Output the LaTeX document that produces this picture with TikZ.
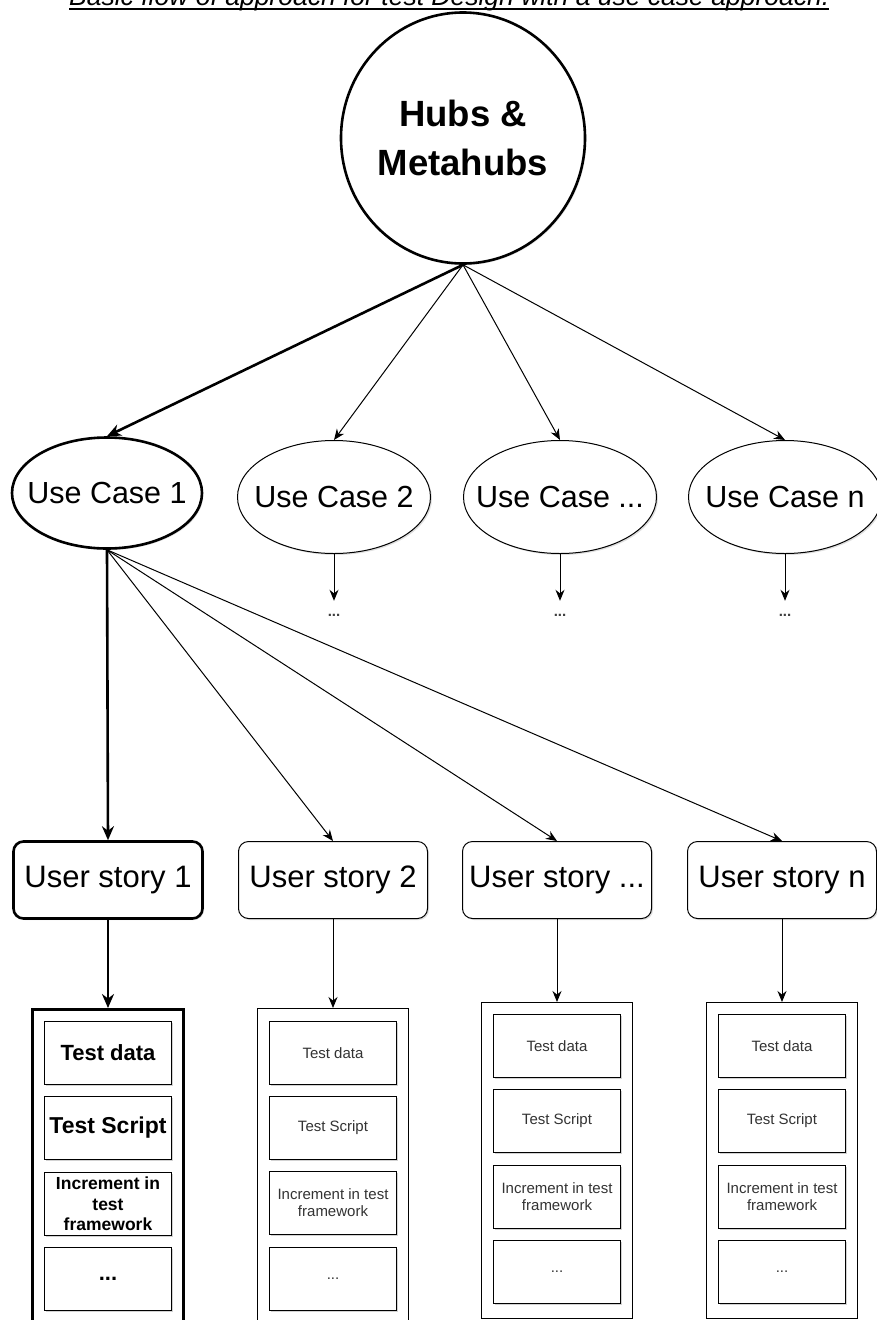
\documentclass[tikz,border=0pt]{standalone}
\usepackage{fontspec}
\setmainfont{Liberation Sans}
\usetikzlibrary{shapes.geometric,arrows.meta,shadows}
\begin{document}
\begin{tikzpicture}[x=1pt,y=-1pt,
  thickln/.style={line width=2.6pt},
  thinln/.style={line width=1pt},
  arr/.style={-{Stealth[length=11pt,width=9pt]},thinln},
  arrthick/.style={-{Stealth[length=14pt,width=12pt]},thickln},
  uc/.style={ellipse,draw,thinln,minimum width=193pt,minimum height=113pt,inner xsep=-20pt,inner ysep=0pt,font=\fontsize{30.5}{34}\selectfont,fill=white,drop shadow={shadow xshift=1.5pt,shadow yshift=-1.5pt,opacity=0.25}},
  us/.style={rectangle,rounded corners=10pt,draw,thinln,minimum width=189pt,minimum height=77pt,inner sep=0pt,font=\fontsize{31}{34}\selectfont,fill=white,drop shadow={shadow xshift=1.5pt,shadow yshift=-1.5pt,opacity=0.25}},
  cont/.style={rectangle,draw,thinln,minimum width=151pt,inner sep=0pt,fill=white},
  inner/.style={rectangle,draw,line width=1.2pt,minimum width=127pt,minimum height=63pt,inner sep=0pt,align=center,fill=white,font=\fontsize{15}{17}\selectfont,text=black!80,drop shadow={shadow xshift=1.8pt,shadow yshift=-1.8pt,opacity=0.35}},
  innerb/.style={inner,text=black,font=\bfseries\fontsize{22}{24}\selectfont},
  dots/.style={font=\bfseries\fontsize{15}{15}\selectfont,text=black!75,inner sep=1pt,text height=14pt,text depth=0pt}
]
\useasboundingbox (0,0) rectangle (877,1320);
% title
\node[anchor=base west,inner sep=0pt,font=\itshape\fontsize{26.5}{28}\selectfont] (title) at (69,5) {Basic flow of approach for test Design with a use case approach.};
\draw[line width=2pt] (69,9) -- (title.base east |- 0,9);
% hub
\node[ellipse,draw,line width=2.6pt,minimum width=244pt,minimum height=251pt,inner sep=0pt,align=center,font=\bfseries\fontsize{36.5}{49}\selectfont,fill=white,drop shadow={shadow xshift=1.5pt,shadow yshift=-1.5pt,opacity=0.2}] (hub) at (463,138) {Hubs \&\\Metahubs};
% use cases
\node[uc,thickln,minimum width=190pt,minimum height=111pt] (uc1) at (107,493) {Use Case 1};
\node[uc] (uc2) at (334,497) {Use Case 2};
\node[uc] (uc3) at (560,497) {Use Case ...};
\node[uc] (uc4) at (785,497) {Use Case n};
\draw[arrthick] (hub.south) -- (uc1.north);
\draw[arr] (hub.south) -- (uc2.north);
\draw[arr] (hub.south) -- (uc3.north);
\draw[arr] (hub.south) -- (uc4.north);
% dots below use cases
\foreach \i/\x in {2/334,3/560,4/785}{
  \node[dots,anchor=base] (d\i) at (\x,616) {...};
  \draw[arr] (uc\i.south) -- (d\i.north);
}
% user stories
\node[us,thickln] (us1) at (108,880) {User story 1};
\node[us] (us2) at (333,880) {User story 2};
\node[us] (us3) at (557,880) {User story ...};
\node[us] (us4) at (782,880) {User story n};
\draw[arrthick] (uc1.south) -- (us1.north);
\draw[arr] (uc1.south) -- (us2.north);
\draw[arr] (uc1.south) -- (us3.north);
\draw[arr] (uc1.south) -- (us4.north);
% containers
\node[cont,thickln,minimum height=330pt,anchor=north] (c1) at (108,1008) {};
\node[cont,minimum height=312pt,anchor=north] (c2) at (333,1008) {};
\node[cont,minimum height=316pt,anchor=north] (c3) at (557,1002) {};
\node[cont,minimum height=316pt,anchor=north] (c4) at (782,1002) {};
\draw[arrthick] (us1.south) -- (c1.north);
\draw[arr] (us2.south) -- (c2.north);
\draw[arr] (us3.south) -- (c3.north);
\draw[arr] (us4.south) -- (c4.north);
% inner boxes, column 1 (bold)
\node[innerb] (a1) at (108,1053) {Test data};
\node[innerb,font=\bfseries\fontsize{23}{25}\selectfont] (a2) at (108,1128) {Test Script};
\node[innerb,font=\bfseries\fontsize{17.5}{20.5}\selectfont] (a3) at (108,1204) {Increment in\\test\\framework};
\node[innerb] (a4) at (108,1279) {...};
% column 2
\node[inner] (b1) at (333,1053) {Test data};
\node[inner] (b2) at (333,1128) {Test Script};
\node[inner] (b3) at (333,1203) {Increment in test\\framework};
\node[inner] (b4) at (333,1279) {...};
% column 3
\node[inner] (e1) at (557,1046) {Test data};
\node[inner] (e2) at (557,1121) {Test Script};
\node[inner] (e3) at (557,1197) {Increment in test\\framework};
\node[inner] (e4) at (557,1272) {...};
% column 4
\node[inner] (f1) at (782,1046) {Test data};
\node[inner] (f2) at (782,1121) {Test Script};
\node[inner] (f3) at (782,1197) {Increment in test\\framework};
\node[inner] (f4) at (782,1272) {...};
\end{tikzpicture}
\end{document}
